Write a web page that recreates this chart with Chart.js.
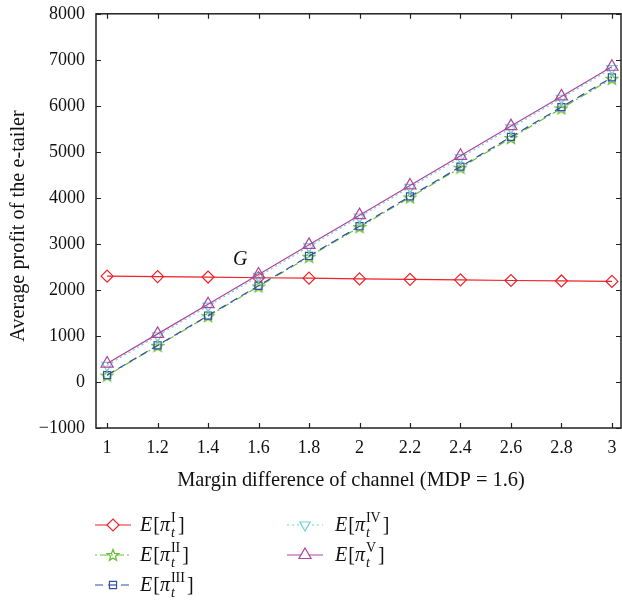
<!DOCTYPE html>
<html><head><meta charset="utf-8">
<script src="https://cdn.jsdelivr.net/npm/chart.js@4.4.1/dist/chart.umd.min.js"></script>
<style>html,body{margin:0;padding:0;background:#fff;}#wrap{width:622px;height:606px;position:relative;}</style>
</head><body><div id="wrap"><canvas id="c" width="622" height="606"></canvas></div>
<script>
const xValues = [1, 1.2, 1.4, 1.6, 1.8, 2, 2.2, 2.4, 2.6, 2.8, 3];
const piI   = [2300, 2290, 2280, 2265, 2255, 2240, 2230, 2220, 2205, 2195, 2185];
const piII  = [140, 785, 1430, 2075, 2720, 3365, 4010, 4655, 5300, 5945, 6590];
const piIII = [150, 797, 1444, 2091, 2738, 3385, 4032, 4679, 5326, 5973, 6620];
const piIV  = [360, 1005, 1650, 2295, 2940, 3585, 4230, 4875, 5520, 6165, 6810];
const piV   = [400, 1045, 1690, 2335, 2980, 3625, 4270, 4915, 5560, 6205, 6850];
const xTickVals = [1, 1.2, 1.4, 1.6, 1.8, 2, 2.2, 2.4, 2.6, 2.8, 3];
const yTickVals = [-1000, 0, 1000, 2000, 3000, 4000, 5000, 6000, 7000, 8000];
const seriesNames = ['I', 'II', 'III', 'IV', 'V'];
const xTitle = 'Margin difference of channel (MDP = 1.6)';
const yTitle = 'Average profit of the e-tailer';
const annotText = 'G';
const annotPos = {x: 1.527, y: 2650};

const SERIF = '"Liberation Serif", "DejaVu Serif", serif';
const colors = ['#ee2228', '#6cbf3c', '#2f4fa8', '#6fd0d6', '#b0449c'];

function makeStar(color) {
  const c = document.createElement('canvas');
  c.width = 14; c.height = 14;
  const g = c.getContext('2d');
  g.strokeStyle = color; g.lineWidth = 1.3;
  g.beginPath();
  for (let i = 0; i < 10; i++) {
    const r = i % 2 === 0 ? 6 : 2.6;
    const a = -Math.PI / 2 + i * Math.PI / 5;
    const px = 7 + r * Math.cos(a), py = 7.5 + r * Math.sin(a);
    if (i === 0) g.moveTo(px, py); else g.lineTo(px, py);
  }
  g.closePath(); g.stroke();
  return c;
}
const starImg = makeStar(colors[1]);

function pts(arr) { return xValues.map((x, i) => ({x: x, y: arr[i]})); }

const styles = [
  {data: piI, dash: [], ps: 'rectRot', r: 6, rot: 0},
  {data: piII, dash: [2, 3, 8, 3], ps: starImg, r: 6, rot: 0},
  {data: piIII, dash: [8, 5], ps: 'rect', r: 5, rot: 0},
  {data: piIV, dash: [2, 3], ps: 'triangle', r: 6, rot: 180},
  {data: piV, dash: [], ps: 'triangle', r: 7, rot: 0},
];

const datasets = styles.map((s, i) => ({
  label: 'E[π_t^' + seriesNames[i] + ']',
  data: pts(s.data),
  borderColor: colors[i],
  backgroundColor: 'rgba(0,0,0,0)',
  borderWidth: 1.2,
  borderDash: s.dash,
  pointStyle: s.ps,
  pointRadius: s.r,
  pointRotation: s.rot,
  pointBorderWidth: 1.2,
  pointBorderColor: colors[i],
  pointBackgroundColor: 'rgba(0,0,0,0)',
  fill: false,
  tension: 0,
  order: [5, 4, 3, 2, 1][i]
}));

function drawLegendLabel(ctx, x, y, sup) {
  ctx.fillStyle = '#111';
  ctx.textBaseline = 'alphabetic';
  ctx.textAlign = 'left';
  let cx = x;
  ctx.font = 'italic 20px ' + SERIF;
  ctx.fillText('E', cx, y); cx += ctx.measureText('E').width + 1;
  ctx.font = '20px ' + SERIF;
  ctx.fillText('[', cx, y); cx += ctx.measureText('[').width;
  ctx.font = 'italic 20px ' + SERIF;
  ctx.fillText('π', cx, y); cx += ctx.measureText('π').width + 1;
  ctx.font = 'italic 14px ' + SERIF;
  ctx.fillText('t', cx, y + 6);
  ctx.font = '14px ' + SERIF;
  ctx.fillText(sup, cx, y - 9);
  const w = Math.max(ctx.measureText(sup).width, 5);
  cx += w + 2;
  ctx.font = '20px ' + SERIF;
  ctx.fillText(']', cx, y);
}

const framePlugin = {
  id: 'frame',
  afterDatasetsDraw(chart) {
    const ctx = chart.ctx, a = chart.chartArea;
    const xs = chart.scales.x, ys = chart.scales.y;
    ctx.save();
    ctx.strokeStyle = '#222'; ctx.lineWidth = 1.5; ctx.setLineDash([]);
    ctx.strokeRect(a.left, a.top, a.right - a.left, a.bottom - a.top);
    ctx.lineWidth = 1.2;
    xs.ticks.forEach(t => {
      const px = Math.round(xs.getPixelForValue(t.value)) + 0.5;
      ctx.beginPath();
      ctx.moveTo(px, a.bottom); ctx.lineTo(px, a.bottom - 5);
      ctx.moveTo(px, a.top); ctx.lineTo(px, a.top + 5);
      ctx.stroke();
    });
    ys.ticks.forEach(t => {
      const py = Math.round(ys.getPixelForValue(t.value)) + 0.5;
      ctx.beginPath();
      ctx.moveTo(a.left, py); ctx.lineTo(a.left + 5, py);
      ctx.moveTo(a.right, py); ctx.lineTo(a.right - 5, py);
      ctx.stroke();
    });
    // annotation
    ctx.fillStyle = '#111';
    ctx.font = 'italic 20px ' + SERIF;
    ctx.textAlign = 'center'; ctx.textBaseline = 'middle';
    ctx.fillText(annotText, xs.getPixelForValue(annotPos.x), ys.getPixelForValue(annotPos.y));
    // axis titles
    ctx.font = '20.4px ' + SERIF;
    ctx.fillText(xTitle, 351, 481);
    ctx.save();
    ctx.translate(19, 226);
    ctx.rotate(-Math.PI / 2);
    ctx.font = '20.3px ' + SERIF;
    ctx.fillText(yTitle, 0, 0);
    ctx.restore();
    // legend
    const cols = [{lx: 95, tx: 140}, {lx: 287, tx: 335}];
    const rowY = [525, 555, 585];
    const place = [[0, 0], [0, 1], [0, 2], [1, 0], [1, 1]];
    chart.data.datasets.forEach((ds, i) => {
      const c = cols[place[i][0]], y = rowY[place[i][1]];
      ctx.save();
      ctx.strokeStyle = ds.borderColor; ctx.lineWidth = 1.2;
      ctx.setLineDash(ds.borderDash);
      ctx.beginPath(); ctx.moveTo(c.lx, y); ctx.lineTo(c.lx + 36, y); ctx.stroke();
      ctx.setLineDash([]);
      ctx.fillStyle = '#fff';
      Chart.helpers.drawPoint(ctx, {pointStyle: ds.pointStyle, radius: ds.pointRadius, rotation: ds.pointRotation, borderWidth: 1.2}, c.lx + 18, y);
      if (i === 2) { ctx.beginPath(); ctx.moveTo(c.lx + 14, y); ctx.lineTo(c.lx + 22, y); ctx.stroke(); }
      ctx.restore();
      drawLegendLabel(ctx, c.tx, y + 6, seriesNames[i]);
    });
    ctx.restore();
  }
};

new Chart(document.getElementById('c'), {
  type: 'line',
  data: {datasets: datasets},
  options: {
    responsive: false,
    animation: false,
    devicePixelRatio: 1,
    layout: {autoPadding: false, padding: {left: 0, right: 1, top: 0, bottom: 108}},
    plugins: {legend: {display: false}, tooltip: {enabled: false}},
    scales: {
      x: {
        type: 'linear', min: 0.956, max: 3.036,
        grid: {display: false}, border: {display: false},
        afterBuildTicks: s => { s.ticks = xTickVals.map(v => ({value: v})); },
        afterFit: s => { s.height = 70; },
        ticks: {padding: 1, color: '#111', font: {family: SERIF, size: 18}, maxRotation: 0,
          callback: v => String(v)}
      },
      y: {
        type: 'linear', min: -1000, max: 8000,
        grid: {display: false}, border: {display: false},
        afterBuildTicks: s => { s.ticks = yTickVals.map(v => ({value: v})); },
        afterFit: s => { s.width = 96; },
        ticks: {padding: 3, color: '#111', font: {family: SERIF, size: 18},
          callback: v => (v < 0 ? '\u2212' + Math.abs(v) : String(v))}
      }
    }
  },
  plugins: [framePlugin]
});
</script></body></html>
